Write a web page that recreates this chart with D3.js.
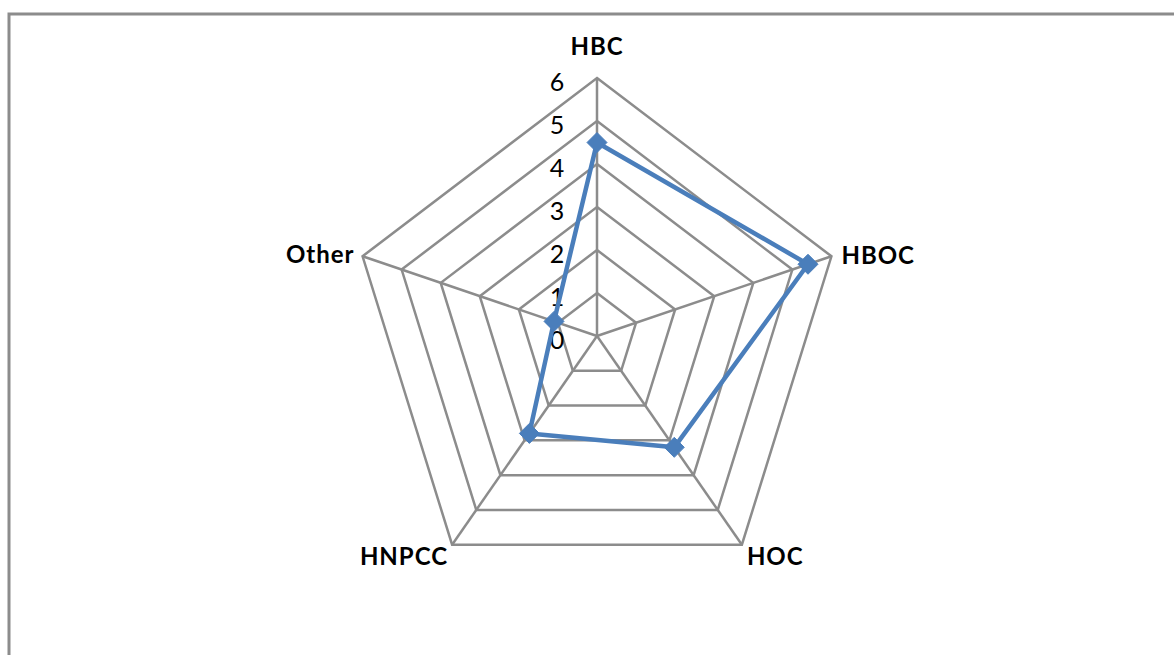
<!DOCTYPE html>
<html>
<head>
<meta charset="utf-8">
<script src="https://cdn.jsdelivr.net/npm/d3@7"></script>
<style>
  body { margin: 0; background: #fff; }
  svg { display: block; }
</style>
</head>
<body>
<svg></svg>
<script>
// chart size
const width = 1174;
const height = 655;

// data
const categories = ["HBC", "HBOC", "HOC", "HNPCC", "Other"];
const values = [4.5, 5.4, 3.2, 2.8, 1.1];
const ticks = [0, 1, 2, 3, 4, 5, 6];

const svg = d3.select("svg")
  .attr("width", width)
  .attr("height", height);

// outer chart frame (runs off the right and bottom edge)
svg.append("rect")
  .attr("x", 9)
  .attr("y", 14)
  .attr("width", width + 20)
  .attr("height", height + 20)
  .attr("fill", "#fff")
  .attr("stroke", "#8c8c8c")
  .attr("stroke-width", 3);

const cx = 597, cy = 336;

// radar is slightly stretched vertically in the original
const rx = d3.scaleLinear().domain([0, 6]).range([0, 246.5]);
const ry = d3.scaleLinear().domain([0, 6]).range([0, 258]);

const angle = d3.scalePoint().domain(categories).range([0, 2 * Math.PI * 4 / 5]);

function pt(cat, v) {
  const a = angle(cat);
  return [cx + rx(v) * Math.sin(a), cy - ry(v) * Math.cos(a)];
}

const g = svg.append("g");

//grid rings
g.selectAll("path.ring")
  .data(ticks.slice(1))
  .enter().append("path")
  .attr("class", "ring")
  .attr("d", t => d3.line()(categories.map(c => pt(c, t))) + "Z")
  .attr("fill", "none")
  .attr("stroke", "#8c8c8c")
  .attr("stroke-width", 2.5);

//spokes
g.selectAll("line.spoke")
  .data(categories)
  .enter().append("line")
  .attr("x1", cx).attr("y1", cy)
  .attr("x2", c => pt(c, 6)[0])
  .attr("y2", c => pt(c, 6)[1])
  .attr("stroke", "#8c8c8c")
  .attr("stroke-width", 2.5);

//tick labels
g.selectAll("text.tick")
  .data(ticks)
  .enter().append("text")
  .attr("x", cx - 40)
  .attr("y", t => cy - ry(t) + 13)
  .attr("text-anchor", "middle")
  .attr("font-family", "Lato, 'Open Sans', sans-serif")
  .attr("font-size", 25)
  .attr("fill", "#000")
  .text(t => t);

//category labels
const labelPos = {
  "HBC": { dx: 0, dy: -23, anchor: "middle" },
  "HBOC": { dx: 10, dy: 8, anchor: "start" },
  "HOC": { dx: 5, dy: 20, anchor: "start" },
  "HNPCC": { dx: -4, dy: 20, anchor: "end" },
  "Other": { dx: -8, dy: 7, anchor: "end" }
};

g.selectAll("text.cat")
  .data(categories)
  .enter().append("text")
  .attr("x", c => pt(c, 6)[0] + labelPos[c].dx)
  .attr("y", c => pt(c, 6)[1] + labelPos[c].dy)
  .attr("text-anchor", c => labelPos[c].anchor)
  .attr("font-family", "Lato, 'Open Sans', sans-serif")
  .attr("font-weight", "bold")
  .attr("font-size", 24)
  .attr("letter-spacing", 1)
  .attr("fill", "#000")
  .text(c => c);

//series line
const pts = categories.map((c, i) => pt(c, values[i]));
g.append("path")
  .attr("d", d3.line()(pts) + "Z")
  .attr("fill", "none")
  .attr("stroke", "#4a7ebb")
  .attr("stroke-width", 4.5)
  .attr("stroke-linejoin", "round");

//diamond markers
g.selectAll("path.marker")
  .data(pts)
  .enter().append("path")
  .attr("transform", d => `translate(${d[0]},${d[1]})`)
  .attr("d", "M0,-10L10,0L0,10L-10,0Z")
  .attr("fill", "#4a7ebb")
  .attr("stroke", "#4a7ebb")
  .attr("stroke-width", 1);
</script>
</body>
</html>
